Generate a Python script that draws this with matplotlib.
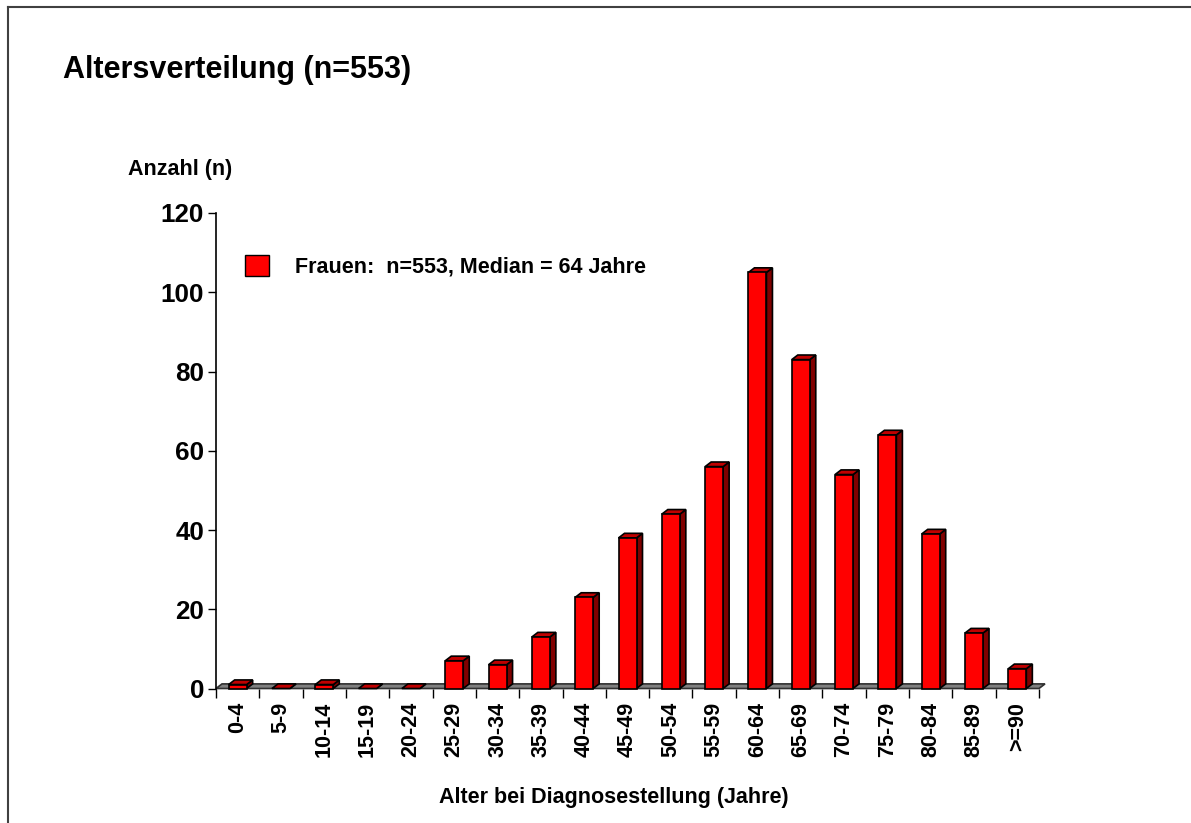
import matplotlib
matplotlib.use("Agg")
import matplotlib.pyplot as plt
from matplotlib.patches import Rectangle, Polygon, Patch
from matplotlib.lines import Line2D

plt.rcParams['font.family'] = ['Liberation Sans', 'DejaVu Sans']
plt.rcParams['font.weight'] = 'bold'

categories = ["0-4", "5-9", "10-14", "15-19", "20-24", "25-29", "30-34", "35-39",
              "40-44", "45-49", "50-54", "55-59", "60-64", "65-69", "70-74",
              "75-79", "80-84", "85-89", ">=90"]
counts = [1, 0, 1, 0, 0, 7, 6, 13, 23, 38, 44, 56, 105, 83, 54, 64, 39, 14, 5]
y_ticks = [0, 20, 40, 60, 80, 100, 120]
title = "Altersverteilung (n=553)"
y_label = "Anzahl (n)"
x_label = "Alter bei Diagnosestellung (Jahre)"
legend_label = "Frauen:  n=553, Median = 64 Jahre"

W, H, DPI = 1191, 823, 100
fig = plt.figure(figsize=(W / DPI, H / DPI), dpi=DPI)
fig.patch.set_facecolor('white')

def fx(px):
    return px / W

def fy(py):
    return 1 - py / H

ax_left, ax_right, ax_top, ax_bot = 216, 1039, 213, 688.5
ax = fig.add_axes([fx(ax_left), fy(ax_bot), fx(ax_right - ax_left), (ax_bot - ax_top) / H])
n = len(categories)
ax.set_xlim(0, n)
ax.set_ylim(0, 120)

px_per_x = (ax_right - ax_left) / n
px_per_y = (ax_bot - ax_top) / 120
dx = 6 / px_per_x
dy = 4.6 / px_per_y
bw = 18 / px_per_x

front = '#FF0000'
topc = '#C00000'
sidec = '#800000'
elw = 1.2

# floor
floor = Polygon([(0, 0), (n, 0), (n + dx, dy), (dx, dy)], closed=True,
                facecolor='#808080', edgecolor='#303030', lw=1.2, zorder=1, clip_on=False)
ax.add_patch(floor)

for k, v in enumerate(counts):
    c = k + 0.5
    x0, x1 = c - bw / 2, c + bw / 2
    side = Polygon([(x1, 0), (x1 + dx, dy), (x1 + dx, v + dy), (x1, v)], closed=True,
                   facecolor=sidec, edgecolor='black', lw=elw, zorder=3, clip_on=False)
    top = Polygon([(x0, v), (x1, v), (x1 + dx, v + dy), (x0 + dx, v + dy)], closed=True,
                  facecolor=topc, edgecolor='black', lw=elw, zorder=3, clip_on=False)
    ax.add_patch(side)
    ax.add_patch(top)
    if v > 0:
        ax.add_patch(Rectangle((x0, 0), bw, v, facecolor=front, edgecolor='black',
                               lw=elw, zorder=4, clip_on=False))

for s in ['top', 'right', 'bottom']:
    ax.spines[s].set_visible(False)
ax.spines['left'].set_linewidth(1.2)
ax.spines['left'].set_zorder(5)

ax.set_yticks(y_ticks)
ax.set_yticklabels([str(t) for t in y_ticks], fontsize=18.7, fontweight='bold')
ax.tick_params(axis='y', direction='out', length=5.5, width=1, pad=3)

ax.set_xticks([k + 0.5 for k in range(n)])
ax.set_xticklabels(categories, rotation=90, fontsize=15.5, fontweight='bold', va='top')
ax.set_xticks(list(range(n + 1)), minor=True)
ax.tick_params(axis='x', which='major', length=0, pad=9.5)
ax.tick_params(axis='x', which='minor', direction='out', length=6.5, width=1)
ax.patch.set_alpha(0)

# legend
handle = Patch(facecolor=front, edgecolor='black', lw=1)
leg = ax.legend([handle], [legend_label], loc='upper left',
                bbox_to_anchor=(fx(245), fy(255)), bbox_transform=fig.transFigure,
                frameon=False, borderpad=0, borderaxespad=0,
                handlelength=1.12, handleheight=1.12, handletextpad=1.2,
                prop={'size': 15.5, 'weight': 'bold'})

fig.text(fx(63), fy(70), title, fontsize=22, fontweight='bold', ha='left', va='center')
fig.text(fx(128), fy(170), y_label, fontsize=15.5, fontweight='bold', ha='left', va='center')
fig.text(fx(614), fy(797), x_label, fontsize=15.5, fontweight='bold', ha='center', va='center')

# outer frame (left and top edges visible)
fig.add_artist(Line2D([fx(7.5), fx(7.5)], [fy(6.5), 0], transform=fig.transFigure,
                      color='#404040', lw=1.5))
fig.add_artist(Line2D([fx(7.5), 1], [fy(6.5), fy(6.5)], transform=fig.transFigure,
                      color='#404040', lw=1.5))

fig.savefig('out.png', dpi=DPI)
